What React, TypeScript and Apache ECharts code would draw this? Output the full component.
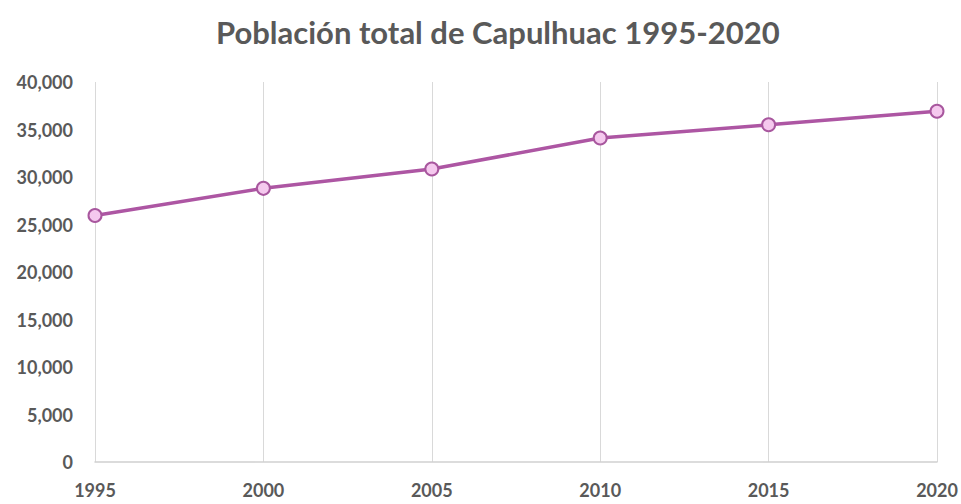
import React, { useEffect, useRef } from "react";
import * as echarts from "echarts";

const years = ["1995", "2000", "2005", "2010", "2015", "2020"];
const population = [25950, 28808, 30838, 34101, 35495, 36921];
const titleText = "Población total de Capulhuac 1995-2020";

export default function App() {
  const ref = useRef<HTMLDivElement>(null);
  useEffect(() => {
    document.body.style.margin = "0";
    const chart = echarts.init(ref.current!, null, { renderer: "svg" });
    chart.setOption({
      animation: false,
      backgroundColor: "#ffffff",
      title: {
        text: titleText,
        left: 211,
        top: 11,
        textStyle: { fontFamily: "Lato", fontSize: 31, fontWeight: "bold", color: "#595959" },
      },
      grid: { left: 95, right: 24, top: 82, bottom: 42 },
      xAxis: {
        type: "category",
        data: years,
        boundaryGap: false,
        axisLine: { show: true, lineStyle: { color: "#d0d0d0", width: 1.5 } },
        axisTick: { show: false },
        axisLabel: { color: "#595959", fontFamily: "Lato", fontSize: 18, fontWeight: "bold", margin: 19 },
        splitLine: { show: true, lineStyle: { color: "#d9d9d9", width: 1 } },
      },
      yAxis: {
        type: "value",
        min: 0,
        max: 40000,
        interval: 5000,
        axisLine: { show: false },
        axisTick: { show: false },
        splitLine: { show: false },
        axisLabel: {
          color: "#595959",
          fontFamily: "Lato",
          fontSize: 18,
          fontWeight: "bold",
          margin: 22,
          formatter: (v: number) => v.toLocaleString("en-US"),
        },
      },
      series: [
        {
          type: "line",
          data: population,
          symbol: "circle",
          symbolSize: 13,
          lineStyle: { color: "#ad56a3", width: 3.5 },
          itemStyle: { color: "#f5c9ee", borderColor: "#a8579e", borderWidth: 2 },
        },
      ],
    });
    return () => chart.dispose();
  }, []);
  return <div ref={ref} style={{ width: 961, height: 504 }} />;
}
